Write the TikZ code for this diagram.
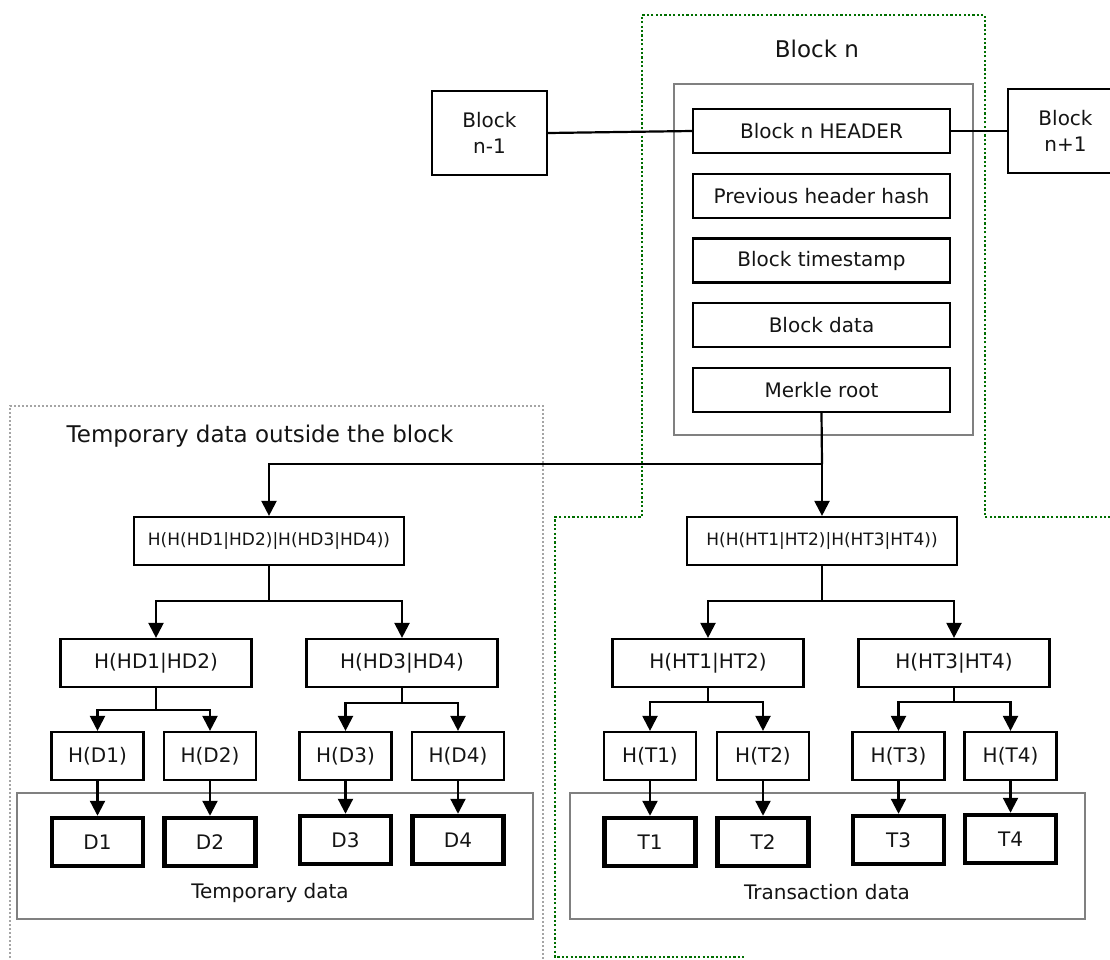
\documentclass[tikz,border=0pt]{standalone}
\usepackage{fontspec}
\setmainfont{DejaVu Sans}
\usetikzlibrary{arrows.meta}

\definecolor{frameGray}{RGB}{128,128,128}
\definecolor{dotGray}{RGB}{165,165,165}
\definecolor{blockGreen}{RGB}{0,110,0}
\definecolor{ink}{RGB}{20,20,20}

\begin{document}
\begin{tikzpicture}[x=1pt,y=-1pt,
  every node/.style={font=\fontsize{20}{24}\selectfont, text=ink},
  box/.style={draw=black, line width=2.2pt, rectangle, inner sep=0pt, align=center},
  fieldbox/.style={box, minimum width=257pt, minimum height=44pt},
  rootbox/.style={box, minimum width=270pt, minimum height=48pt, font=\fontsize{17}{20}\selectfont},
  pairbox/.style={box, minimum width=191pt, minimum height=48pt},
  leafbox/.style={box, minimum width=92pt, minimum height=48pt},
  databox/.style={box, line width=4.5pt, minimum width=91pt, minimum height=48pt},
  chainbox/.style={box, minimum width=115pt, minimum height=84pt, font=\fontsize{20}{26}\selectfont},
  title/.style={font=\fontsize{23}{27}\selectfont},
  frame/.style={draw=frameGray, line width=2pt},
  link/.style={draw=black, line width=2.2pt},
  arr/.style={link, -{Triangle[length=15pt,width=15pt]}},
]
\useasboundingbox (0,0) rectangle (1110,959);
\clip (0,0) rectangle (1110,959);

% outline of the block itself (green) and of the temporary area (gray)
\draw[blockGreen, line width=2.2pt, dash pattern=on 2.2pt off 2.2pt]
  (1115,517) -- (985,517) -- (985,15) -- (642,15) -- (642,517)
  -- (555,517) -- (555,957) -- (745,957);
\draw[dotGray, line width=2pt, dash pattern=on 2pt off 2pt]
  (10,970) -- (10,406) -- (543,406) -- (543,970);

\node[title] (blocktitle) at (817,49) {Block n};
\node[title] (temptitle) at (260,436) {Temporary data outside the block};

% block contents
\draw[frame] (674,84) rectangle (973,435);
\node[fieldbox] (hdr)    at (821.5,131)    {Block n HEADER};
\node[fieldbox] (prev)   at (821.5,195.75) {Previous header hash};
\node[fieldbox] (ts)     at (821.5,260.5)  {Block timestamp};
\node[fieldbox] (bdata)  at (821.5,325.25) {Block data};
\node[fieldbox] (merkle) at (821.5,390)    {Merkle root};

% neighbouring blocks
\node[chainbox] (prevblk) at (489.5,133) {Block\\n-1};
\node[chainbox] (nextblk) at (1065.5,131) {Block\\n+1};
\draw[link] (prevblk.east) -- (hdr.west);
\draw[link] (hdr.east) -- (nextblk.west);

% data containers
\draw[frame] (17,793) rectangle (533,919);
\draw[frame] (570,793) rectangle (1085,919);
\node (templbl)  at (270,893) {Temporary data};
\node (translbl) at (827,892) {Transaction data};

% Merkle trees
\node[rootbox] (hdroot) at (269,541) {H(H(HD1|HD2)|H(HD3|HD4))};
\node[rootbox] (htroot) at (822,541) {H(H(HT1|HT2)|H(HT3|HT4))};

\node[pairbox] (hd12) at (156,663) {H(HD1|HD2)};
\node[pairbox] (hd34) at (402,663) {H(HD3|HD4)};
\node[pairbox] (ht12) at (708,663) {H(HT1|HT2)};
\node[pairbox] (ht34) at (954,663) {H(HT3|HT4)};

\node[leafbox] (hD1) at (97.5,756)  {H(D1)};
\node[leafbox] (hD2) at (210,756)   {H(D2)};
\node[leafbox] (hD3) at (345.5,756) {H(D3)};
\node[leafbox] (hD4) at (458,756)   {H(D4)};
\node[leafbox] (hT1) at (650,756)   {H(T1)};
\node[leafbox] (hT2) at (763,756)   {H(T2)};
\node[leafbox] (hT3) at (898.5,756) {H(T3)};
\node[leafbox] (hT4) at (1010.5,756){H(T4)};

\node[databox] (D1) at (97.5,842)  {D1};
\node[databox] (D2) at (210,842)   {D2};
\node[databox] (D3) at (345.5,840) {D3};
\node[databox] (D4) at (458,840)   {D4};
\node[databox] (T1) at (650,842)   {T1};
\node[databox] (T2) at (763,842)   {T2};
\node[databox] (T3) at (898.5,840) {T3};
\node[databox] (T4) at (1010.5,839){T4};

% connectors
\coordinate (j0) at (822,464);
\draw[link] (merkle.south) -- (j0);
\draw[arr] (j0) -| (hdroot.north);
\draw[arr] (j0) -- (htroot.north);

\coordinate (jl) at (269,601);
\draw[link] (hdroot.south) -- (jl);
\draw[arr] (jl) -| (hd12.north);
\draw[arr] (jl) -| (hd34.north);
\coordinate (jr) at (822,601);
\draw[link] (htroot.south) -- (jr);
\draw[arr] (jr) -| (ht12.north);
\draw[arr] (jr) -| (ht34.north);

\coordinate (ja) at (156,710);
\draw[link] (hd12.south) -- (ja);
\draw[arr] (ja) -| (hD1.north);
\draw[arr] (ja) -| (hD2.north);
\coordinate (jb) at (402,703);
\draw[link] (hd34.south) -- (jb);
\draw[arr] (jb) -| (hD3.north);
\draw[arr] (jb) -| (hD4.north);
\coordinate (jc) at (708,702);
\draw[link] (ht12.south) -- (jc);
\draw[arr] (jc) -| (hT1.north);
\draw[arr] (jc) -| (hT2.north);
\coordinate (jd) at (954,702);
\draw[link] (ht34.south) -- (jd);
\draw[arr] (jd) -| (hT3.north);
\draw[arr] (jd) -| (hT4.north);

\draw[arr] (hD1.south) -- (D1.north);
\draw[arr] (hD2.south) -- (D2.north);
\draw[arr] (hD3.south) -- (D3.north);
\draw[arr] (hD4.south) -- (D4.north);
\draw[arr] (hT1.south) -- (T1.north);
\draw[arr] (hT2.south) -- (T2.north);
\draw[arr] (hT3.south) -- (T3.north);
\draw[arr] (hT4.south) -- (T4.north);
\end{tikzpicture}
\end{document}
